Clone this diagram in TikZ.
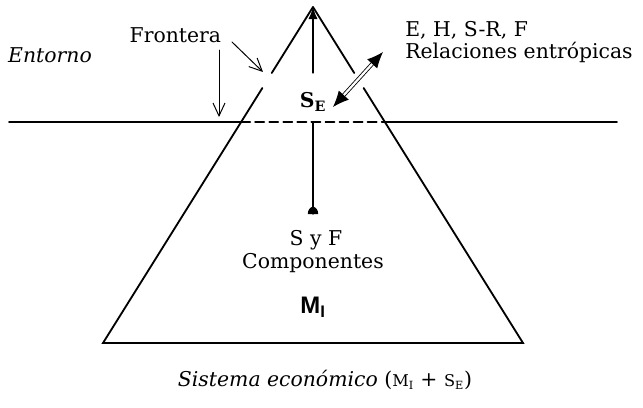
\documentclass[tikz,border=0pt]{standalone}
\usepackage{fontspec}
\setmainfont{DejaVu Serif}
\setsansfont{Liberation Sans}
\usepackage{tikz}
\usetikzlibrary{arrows.meta}

\newcommand{\capsm}[2]{{\fontsize{11.5}{12}\selectfont #1\textsubscript{#2}}}

\tikzset{
  side/.style={line width=1.3pt},
  axis/.style={line width=0.9pt},
  pointer/.style={line width=0.7pt, -{Straight Barb[length=3.2mm,width=3mm]}},
  txt/.style={font=\fontsize{14.5}{15.5}\selectfont, inner sep=0pt}
}

\begin{document}
\begin{tikzpicture}[cap=round]
\useasboundingbox (-7.825, 3.05) rectangle (8.25, -7.125);

% triangle with the two gaps of the boundary
\coordinate (apex) at (0, 2.875);
\coordinate (baseL) at (-5.25, -5.525);
\coordinate (baseR) at (5.25, -5.525);
\coordinate (gapLt) at (-1.031, 1.225);
\coordinate (gapLb) at (-1.266, 0.85);
\coordinate (gapRt) at (1.031, 1.225);
\coordinate (gapRb) at (1.266, 0.85);

\draw [side] (apex) -- (gapLt);
\draw [side] (gapLb) -- (baseL) -- (baseR) -- (gapRb);
\draw [side] (gapRt) -- (apex);

% surface line
\coordinate (horL) at (-7.6, 0);
\coordinate (horR) at (7.6, 0);
\coordinate (cutL) at (-1.797, 0);
\coordinate (cutR) at (1.797, 0);
\draw [side] (horL) -- (cutL);
\draw [side, dash pattern=on 6.4pt off 3.6pt] (cutL) -- (cutR);
\draw [side] (cutR) -- (horR);

% centre line
\coordinate (midT) at (0, 1.225);
\coordinate (mid) at (0, 0);
\coordinate (midB) at (0, -2.3);
\draw [axis, -{Latex[length=3mm,width=2.3mm]}] (midT) -- (apex);
\draw [axis] (mid) -- (midB);
\fill (midB) ++(0.13, 0) arc (0:180:0.13 and 0.18) -- cycle;

% labels
\node [txt] (entorno) at (-6.575, 1.675) {\textit{Entorno}};
\node [txt] (frontera) at (-3.44, 2.175) {Frontera};
\node [txt, anchor=west] (flujos) at (2.3, 2.3) {E, H, S-R, F};
\node [txt, anchor=west] (relac) at (2.3, 1.75) {Relaciones entrópicas};
\node [txt] (se) at (0, 0.5) {\textbf{S}\textsubscript{\textbf{E}}};
\node [txt] (syf) at (0.075, -2.95) {S y F};
\node [txt] (comp) at (0, -3.525) {Componentes};
\node [txt, font=\fontsize{17}{18}\selectfont] (mi) at (0, -4.625)
  {\sffamily\bfseries M\textsubscript{I}};
\node [txt] (sistema) at (0.3, -6.45)
  {\textit{Sistema económico} (\capsm{M}{I} + \capsm{S}{E})};

% arrows
\coordinate (frA) at (-2.35, 1.8);
\coordinate (frAe) at (-2.35, 0.125);
\coordinate (frB) at (-2.025, 2.0);
\coordinate (frBe) at (-1.25, 1.25);
\draw [pointer] (frA) -- (frAe);
\draw [pointer] (frB) -- (frBe);

\coordinate (exIn) at (0.5, 0.375);
\coordinate (exOut) at (1.75, 1.75);
\draw [line width=0.6pt, double, double distance=1.6pt,
  {Latex[length=4mm,width=3.4mm]}-{Latex[length=4mm,width=3.4mm]}] (exIn) -- (exOut);

\end{tikzpicture}
\end{document}
